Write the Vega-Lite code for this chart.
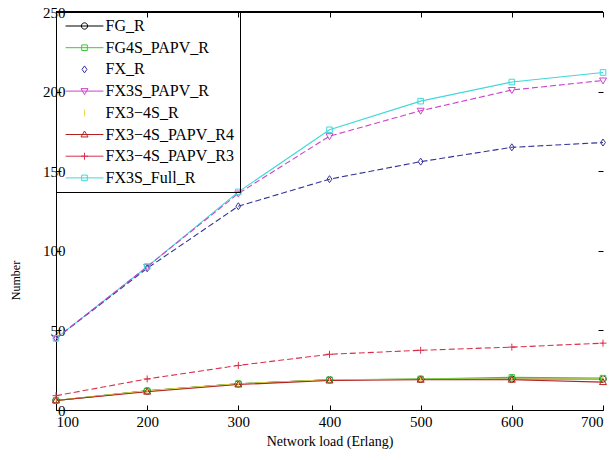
{
  "$schema": "https://vega.github.io/schema/vega-lite/v6.json",
  "width": 547,
  "height": 398,
  "autosize": {"type": "none"},
  "padding": {"left": 56, "top": 12, "right": 10, "bottom": 50},
  "background": "white",
  "data": {"values": [
    {"load":100,"series":"FG_R","value":6},{"load":200,"series":"FG_R","value":12},{"load":300,"series":"FG_R","value":16.5},{"load":400,"series":"FG_R","value":19},{"load":500,"series":"FG_R","value":19.3},{"load":600,"series":"FG_R","value":19.5},{"load":700,"series":"FG_R","value":19.5},
    {"load":100,"series":"FG4S_PAPV_R","value":6},{"load":200,"series":"FG4S_PAPV_R","value":12},{"load":300,"series":"FG4S_PAPV_R","value":16.5},{"load":400,"series":"FG4S_PAPV_R","value":19},{"load":500,"series":"FG4S_PAPV_R","value":19.5},{"load":600,"series":"FG4S_PAPV_R","value":20.5},{"load":700,"series":"FG4S_PAPV_R","value":20},
    {"load":100,"series":"FX_R","value":45},{"load":200,"series":"FX_R","value":89},{"load":300,"series":"FX_R","value":128},{"load":400,"series":"FX_R","value":145},{"load":500,"series":"FX_R","value":156},{"load":600,"series":"FX_R","value":165},{"load":700,"series":"FX_R","value":168},
    {"load":100,"series":"FX3S_PAPV_R","value":45},{"load":200,"series":"FX3S_PAPV_R","value":90},{"load":300,"series":"FX3S_PAPV_R","value":136},{"load":400,"series":"FX3S_PAPV_R","value":172},{"load":500,"series":"FX3S_PAPV_R","value":188},{"load":600,"series":"FX3S_PAPV_R","value":201},{"load":700,"series":"FX3S_PAPV_R","value":207},
    {"load":100,"series":"FX3−4S_R","value":6},{"load":200,"series":"FX3−4S_R","value":12},{"load":300,"series":"FX3−4S_R","value":16.5},{"load":400,"series":"FX3−4S_R","value":19},{"load":500,"series":"FX3−4S_R","value":19.3},{"load":600,"series":"FX3−4S_R","value":19.5},{"load":700,"series":"FX3−4S_R","value":19.5},
    {"load":100,"series":"FX3−4S_PAPV_R4","value":6},{"load":200,"series":"FX3−4S_PAPV_R4","value":11.5},{"load":300,"series":"FX3−4S_PAPV_R4","value":16},{"load":400,"series":"FX3−4S_PAPV_R4","value":18.5},{"load":500,"series":"FX3−4S_PAPV_R4","value":19},{"load":600,"series":"FX3−4S_PAPV_R4","value":19},{"load":700,"series":"FX3−4S_PAPV_R4","value":17.5},
    {"load":100,"series":"FX3−4S_PAPV_R3","value":9},{"load":200,"series":"FX3−4S_PAPV_R3","value":19.5},{"load":300,"series":"FX3−4S_PAPV_R3","value":28},{"load":400,"series":"FX3−4S_PAPV_R3","value":35},{"load":500,"series":"FX3−4S_PAPV_R3","value":37.5},{"load":600,"series":"FX3−4S_PAPV_R3","value":39.5},{"load":700,"series":"FX3−4S_PAPV_R3","value":42},
    {"load":100,"series":"FX3S_Full_R","value":45},{"load":200,"series":"FX3S_Full_R","value":90},{"load":300,"series":"FX3S_Full_R","value":137},{"load":400,"series":"FX3S_Full_R","value":176},{"load":500,"series":"FX3S_Full_R","value":194},{"load":600,"series":"FX3S_Full_R","value":206},{"load":700,"series":"FX3S_Full_R","value":212}
  ]},
  "resolve": {"scale": {"x": "independent", "y": "independent"}, "axis": {"x": "independent", "y": "independent"}},
  "layer": [
    {
      "transform": [{"filter": {"field": "series", "oneOf": ["FG_R","FG4S_PAPV_R","FX3−4S_R","FX3−4S_PAPV_R4","FX3S_Full_R"]}}],
      "mark": {"type": "line", "strokeWidth": 1.1},
      "encoding": {
        "x": {"field": "load", "type": "quantitative", "scale": {"domain": [100, 700], "nice": false},
          "axis": {"orient": "bottom", "values": [100,200,300,400,500,600,700], "title": "Network load (Erlang)", "labelFlush": true, "labelPadding": 9, "titlePadding": 5, "titleFontSize": 14}},
        "y": {"field": "value", "type": "quantitative", "scale": {"domain": [0, 250], "nice": false},
          "axis": {"orient": "left", "values": [0,50,100,150,200,250], "title": "Number", "labelPadding": -4, "titleFontSize": 12, "titleAngle": -90, "titleX": -41, "titleY": 268, "titleAlign": "center", "titleBaseline": "middle"}},
        "color": {"field": "series", "type": "nominal", "title": null,
          "scale": {"domain": ["FG_R","FG4S_PAPV_R","FX_R","FX3S_PAPV_R","FX3−4S_R","FX3−4S_PAPV_R4","FX3−4S_PAPV_R3","FX3S_Full_R"],
                    "range": ["#000000","#3cc83c","#333399","#cc44cc","#f0dc50","#b82020","#d8304a","#40d8d8"]}}
      }
    },
    {
      "transform": [{"filter": {"field": "series", "oneOf": ["FX_R","FX3S_PAPV_R","FX3−4S_PAPV_R3"]}}],
      "mark": {"type": "line", "strokeWidth": 1.1, "strokeDash": [6, 3]},
      "encoding": {
        "x": {"field": "load", "type": "quantitative", "scale": {"domain": [100, 700], "nice": false},
          "axis": {"orient": "top", "values": [100,200,300,400,500,600,700], "labels": true, "labelExpr": "''", "title": null, "domain": true, "ticks": true, "tickSize": -5, "tickColor": "#000000", "domainColor": "#000000"}},
        "y": {"field": "value", "type": "quantitative", "scale": {"domain": [0, 250], "nice": false},
          "axis": {"orient": "right", "values": [0,50,100,150,200,250], "labels": true, "labelExpr": "''", "title": null, "domain": false, "ticks": true, "tickSize": -5, "tickColor": "#000000"}},
        "color": {"field": "series", "type": "nominal", "title": null}
      }
    },
    {
      "mark": {"type": "point", "filled": false, "strokeWidth": 1, "size": 49, "opacity": 1},
      "encoding": {
        "x": {"field": "load", "type": "quantitative", "scale": {"domain": [100, 700], "nice": false}, "axis": null},
        "y": {"field": "value", "type": "quantitative", "scale": {"domain": [0, 250], "nice": false}, "axis": null},
        "color": {"field": "series", "type": "nominal", "title": null},
        "shape": {
          "condition": [
            {"test": "datum.series === 'FG_R'", "value": "M0.9,0A0.9,0.9 0 1,1 -0.9,0A0.9,0.9 0 1,1 0.9,0Z"},
            {"test": "datum.series === 'FX_R'", "value": "M0,-1L0.7,0L0,1L-0.7,0Z"},
            {"test": "datum.series === 'FX3S_PAPV_R'", "value": "M-1,-0.7L1,-0.7L0,1Z"},
            {"test": "datum.series === 'FX3−4S_R'", "value": "M0,-1V1"},
            {"test": "datum.series === 'FX3−4S_PAPV_R4'", "value": "M-1,0.7L1,0.7L0,-1Z"},
            {"test": "datum.series === 'FX3−4S_PAPV_R3'", "value": "M-1,0H1M0,-1V1"}
          ],
          "value": "M-0.8,-0.8H0.8V0.8H-0.8Z"
        }
      }
    },
    {
      "mark": {"type": "point", "filled": false, "strokeWidth": 1, "size": 49, "opacity": 0},
      "encoding": {
        "x": {"field": "load", "type": "quantitative", "scale": {"domain": [100, 700], "nice": false}, "axis": null},
        "y": {"field": "value", "type": "quantitative", "scale": {"domain": [0, 250], "nice": false}, "axis": null},
        "color": {"field": "series", "type": "nominal", "title": null},
        "shape": {"field": "series", "type": "nominal", "title": null,
          "scale": {"domain": ["FG_R","FG4S_PAPV_R","FX_R","FX3S_PAPV_R","FX3−4S_R","FX3−4S_PAPV_R4","FX3−4S_PAPV_R3","FX3S_Full_R"],
                    "range": ["M-5.4,0H5.4M0.9,0A0.9,0.9 0 1,1 -0.9,0A0.9,0.9 0 1,1 0.9,0Z","M-5.4,0H5.4M-0.8,-0.8H0.8V0.8H-0.8Z","M0,-1L0.7,0L0,1L-0.7,0Z","M-5.4,0H5.4M-1,-0.7L1,-0.7L0,1Z","M0,-1V1","M-5.4,0H5.4M-1,0.7L1,0.7L0,-1Z","M-5.4,0H5.4M-1,0H1M0,-1V1","M-5.4,0H5.4M-0.8,-0.8H0.8V0.8H-0.8Z"]}}
      }
    },
    {
      "mark": {"type": "rule", "color": "#000000", "strokeWidth": 1.5},
      "encoding": {
        "y": {"datum": 250, "type": "quantitative", "scale": {"domain": [0, 250], "nice": false}, "axis": null}
      }
    }
  ],
  "config": {
    "view": {"stroke": null},
    "font": "Liberation Serif",
    "axis": {
      "grid": false, "domainColor": "#000000", "domainWidth": 1, "tickColor": "#000000", "tickSize": -5, "tickWidth": 1,
      "labelFont": "Liberation Serif", "labelFontSize": 15, "labelColor": "#000000",
      "titleFont": "Liberation Serif", "titleFontWeight": "normal", "titleColor": "#000000"
    },
    "legend": {
      "orient": "top-left", "offset": 0, "padding": 6,
      "fillColor": null, "strokeColor": "#000000", "strokeWidth": 1,
      "labelFont": "Liberation Serif", "labelFontSize": 16, "labelColor": "#000000",
      "symbolSize": 49, "symbolStrokeWidth": 1, "symbolOpacity": 1, "symbolOffset": 14.5, "labelOffset": 13, "rowPadding": 5.7
    }
  }
}
